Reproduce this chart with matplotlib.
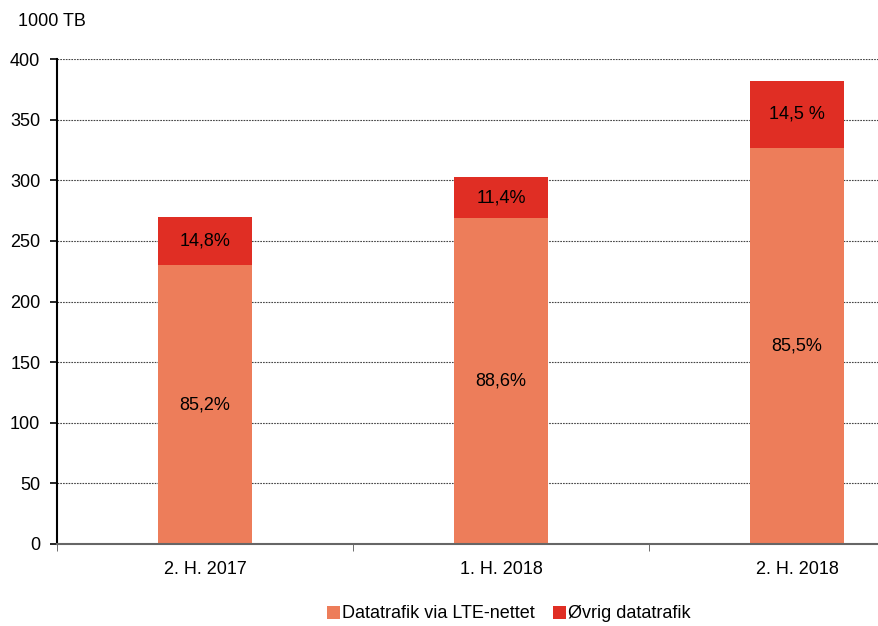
import matplotlib
matplotlib.use("Agg")
import matplotlib.pyplot as plt
import numpy as np

plt.rcParams['font.family'] = ['Liberation Sans', 'DejaVu Sans']

# Data (1000 TB)
categories = ['2. H. 2017', '1. H. 2018', '2. H. 2018']
lte = [230, 268.5, 327]
totals = [269.5, 303, 382]
other = [t - l for t, l in zip(totals, lte)]
lte_labels = ['85,2%', '88,6%', '85,5%']
other_labels = ['14,8%', '11,4%', '14,5 %']

c_lte = '#ED7D5A'
c_other = '#E02E24'
fs = 13

fig = plt.figure(figsize=(8.79, 6.26), dpi=100)
# axes runs past the right edge of the figure, like the original
ax = fig.add_axes([57 / 879, 82 / 626, 888 / 879, 485 / 626])

x = np.arange(len(categories))
w = 0.315
ax.bar(x, lte, w, color=c_lte, label='Datatrafik via LTE-nettet', zorder=3)
ax.bar(x, other, w, bottom=lte, color=c_other, label='Øvrig datatrafik', zorder=3)

for i in range(len(categories)):
    ax.text(x[i], lte[i] / 2, lte_labels[i], ha='center', va='center', fontsize=fs, zorder=4)
    ax.text(x[i], lte[i] + other[i] / 2, other_labels[i], ha='center', va='center', fontsize=fs, zorder=4)

ax.set_xlim(-0.5, 2.5)
ax.set_ylim(0, 400)
ax.set_yticks(np.arange(0, 401, 50))
ax.yaxis.grid(True, linestyle=(0, (1.5, 1)), color='#444444', linewidth=0.8, zorder=0)
ax.set_axisbelow(True)

ax.set_xticks(x)
ax.set_xticklabels(categories, fontsize=fs)
ax.set_xticks([-0.5, 0.5, 1.5, 2.5], minor=True)
ax.tick_params(axis='x', which='major', length=0, pad=12)
ax.tick_params(axis='x', which='minor', length=5, color='#555555', direction='out')
ax.tick_params(axis='y', length=5, width=1.2, labelsize=fs, direction='out', pad=7)

for s in ['top', 'right']:
    ax.spines[s].set_visible(False)
ax.spines['left'].set_linewidth(1.5)
ax.spines['left'].set_color('black')
ax.spines['bottom'].set_color('#666666')
ax.spines['bottom'].set_linewidth(1.5)
ax.spines['bottom'].set_zorder(5)

fig.text(18 / 879, 1 - 22 / 626, '1000 TB', fontsize=fs, va='center', ha='left')

fig.legend(loc='center', bbox_to_anchor=(509 / 879, 1 - 614 / 626), ncol=2, frameon=False,
           fontsize=fs, handlelength=0.7, handleheight=0.7, handletextpad=0.15, columnspacing=1.0)

fig.savefig('out.png', dpi=100)
